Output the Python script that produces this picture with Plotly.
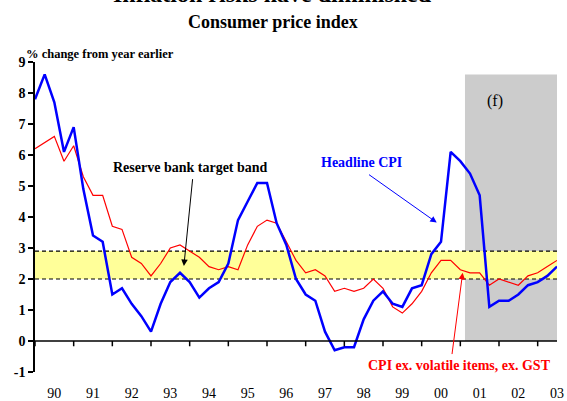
import plotly.graph_objects as go

# Quarterly observations (decimal year)
quarters = [
    1990.00, 1990.25, 1990.50, 1990.75, 1991.00, 1991.25, 1991.50, 1991.75,
    1992.00, 1992.25, 1992.50, 1992.75, 1993.00, 1993.25, 1993.50, 1993.75,
    1994.00, 1994.25, 1994.50, 1994.75, 1995.00, 1995.25, 1995.50, 1995.75,
    1996.00, 1996.25, 1996.50, 1996.75, 1997.00, 1997.25, 1997.50, 1997.75,
    1998.00, 1998.25, 1998.50, 1998.75, 1999.00, 1999.25, 1999.50, 1999.75,
    2000.00, 2000.25, 2000.50, 2000.75, 2001.00, 2001.25, 2001.50, 2001.75,
    2002.00, 2002.25, 2002.50, 2002.75, 2003.00, 2003.25, 2003.50,
]

headline_cpi = [
    7.8, 8.6, 7.7, 6.1, 6.9, 4.9, 3.4, 3.2, 1.5, 1.7,
    1.2, 0.8, 0.3, 1.2, 1.9, 2.2, 1.9, 1.4, 1.7, 1.9,
    2.5, 3.9, 4.5, 5.1, 5.1, 3.8, 3.1, 2.0, 1.5, 1.3,
    0.3, -0.3, -0.2, -0.2, 0.7, 1.3, 1.6, 1.2, 1.1, 1.7,
    1.8, 2.8, 3.2, 6.1, 5.8, 5.4, 4.7, 1.1, 1.3, 1.3,
    1.5, 1.8, 1.9, 2.1, 2.4,
]

cpi_ex_volatile = [
    6.2, 6.4, 6.6, 5.8, 6.3, 5.3, 4.7, 4.7, 3.7, 3.6,
    2.7, 2.5, 2.1, 2.5, 3.0, 3.1, 2.9, 2.7, 2.4, 2.3,
    2.4, 2.3, 3.1, 3.7, 3.9, 3.8, 3.2, 2.6, 2.2, 2.3,
    2.1, 1.6, 1.7, 1.6, 1.7, 2.0, 1.7, 1.1, 0.9, 1.2,
    1.6, 2.2, 2.6, 2.6, 2.3, 2.2, 2.2, 1.8, 2.0, 1.9,
    1.8, 2.1, 2.2, 2.4, 2.6,
]

year_ticks = [1990, 1991, 1992, 1993, 1994, 1995, 1996, 1997, 1998, 1999,
              2000, 2001, 2002, 2003]
year_label_pos = [1990.5, 1991.5, 1992.5, 1993.5, 1994.5, 1995.5, 1996.5,
                  1997.5, 1998.5, 1999.5, 2000.5, 2001.5, 2002.5, 2003.5]
year_labels = ["90", "91", "92", "93", "94", "95", "96", "97", "98", "99",
               "00", "01", "02", "03"]
y_ticks = [-1, 0, 1, 2, 3, 4, 5, 6, 7, 8, 9]

target_band = [2.0, 2.9]
forecast_start = 2001.12
forecast_top = 8.6
x_range = [1990, 2003.5]

SERIF = "Liberation Serif, Times New Roman, serif"

fig = go.Figure()
fig.add_trace(go.Scatter(x=quarters, y=cpi_ex_volatile, mode="lines",
                         line=dict(color="#FF0000", width=1.2),
                         name="CPI ex. volatile items, ex. GST"))
fig.add_trace(go.Scatter(x=quarters, y=headline_cpi, mode="lines",
                         line=dict(color="#0000FF", width=2.5),
                         name="Headline CPI"))

shapes = []
# forecast shading
shapes.append(dict(type="rect", xref="x", yref="y", x0=forecast_start, x1=x_range[1],
                   y0=0, y1=forecast_top, fillcolor="#CCCCCC", line=dict(width=0),
                   layer="below"))
# target band
shapes.append(dict(type="rect", xref="x", yref="y", x0=x_range[0], x1=x_range[1],
                   y0=target_band[0], y1=target_band[1], fillcolor="#FFFF99",
                   line=dict(width=0), layer="below"))
for yb in target_band:
    shapes.append(dict(type="line", xref="x", yref="y", x0=x_range[0], x1=x_range[1],
                       y0=yb, y1=yb, line=dict(color="black", width=1.2, dash="4px,3px"),
                       layer="below"))
# x axis line at zero and year ticks
shapes.append(dict(type="line", xref="x", yref="y", x0=x_range[0], x1=x_range[1],
                   y0=0, y1=0, line=dict(color="black", width=1.5)))
for yr in year_ticks:
    shapes.append(dict(type="line", xref="x", yref="y", x0=yr, x1=yr,
                       y0=0, y1=-0.17, line=dict(color="black", width=1.5)))

annotations = [
    dict(text="<b>Inflation risks have diminished</b>", xref="paper", yref="paper",
         x=0.455, y=1.172, xanchor="center", yanchor="bottom", showarrow=False,
         font=dict(family=SERIF, size=24, color="black")),
    dict(text="<b>Consumer price index</b>", xref="paper", yref="paper",
         x=0.455, y=1.128, xanchor="center", yanchor="middle", showarrow=False,
         font=dict(family=SERIF, size=18, color="black")),
    dict(text="<b>% change from year earlier</b>", xref="paper", yref="paper",
         x=-0.022, y=1.025, xanchor="left", yanchor="middle", showarrow=False,
         font=dict(family=SERIF, size=12.5, color="black")),
    dict(text="<b>Reserve bank target band</b>", xref="x", yref="y",
         x=1994.03, y=5.59, showarrow=False,
         font=dict(family=SERIF, size=14, color="black")),
    dict(text="", xref="x", yref="y", x=1993.85, y=2.42, ax=1994.08, ay=5.27,
         axref="x", ayref="y", showarrow=True, arrowhead=2, arrowsize=1.3,
         arrowwidth=1, arrowcolor="black"),
    dict(text="<b>Headline CPI</b>", xref="x", yref="y",
         x=1998.45, y=5.75, showarrow=False,
         font=dict(family=SERIF, size=14, color="#0000FF")),
    dict(text="", xref="x", yref="y", x=2000.39, y=3.82, ax=1998.6, ay=5.4,
         axref="x", ayref="y", showarrow=True, arrowhead=2, arrowsize=1.3,
         arrowwidth=1, arrowcolor="#0000FF"),
    dict(text="<b>CPI ex. volatile items, ex. GST</b>", xref="x", yref="y",
         x=2000.98, y=-0.79, showarrow=False,
         font=dict(family=SERIF, size=14, color="#FF0000")),
    dict(text="", xref="x", yref="y", x=2001.06, y=2.2, ax=2000.78, ay=-0.47,
         axref="x", ayref="y", showarrow=True, arrowhead=2, arrowsize=1.3,
         arrowwidth=1, arrowcolor="#FF0000"),
    dict(text="(f)", xref="x", yref="y", x=2001.89, y=7.75, showarrow=False,
         font=dict(family=SERIF, size=16, color="black")),
]

fig.update_layout(
    width=567, height=401,
    margin=dict(l=35, r=10, t=62, b=29, pad=0, autoexpand=False),
    paper_bgcolor="white", plot_bgcolor="white",
    showlegend=False,
    shapes=shapes,
    annotations=annotations,
    xaxis=dict(range=x_range, showgrid=False, zeroline=False, showline=False,
               automargin=False,
               tickmode="array", tickvals=year_label_pos, ticktext=year_labels,
               ticks="", ticklabelstandoff=11,
               tickfont=dict(family=SERIF, size=14, color="black"),
               tickprefix="<b>", ticksuffix="</b>"),
    yaxis=dict(range=[-1, 9], showgrid=False, zeroline=False, showline=True,
               automargin=False,
               linecolor="black", linewidth=1.5, ticks="outside", ticklen=5,
               tickwidth=1.5, tickcolor="black", tickmode="array",
               tickvals=y_ticks, ticktext=["<b>%d</b>" % v for v in y_ticks],
               tickfont=dict(family=SERIF, size=14, color="black")),
)

fig.write_html("out.html",
               config={"displayModeBar": False},
               post_script="document.body.style.margin='0';"
                           "document.body.style.overflow='hidden';")
